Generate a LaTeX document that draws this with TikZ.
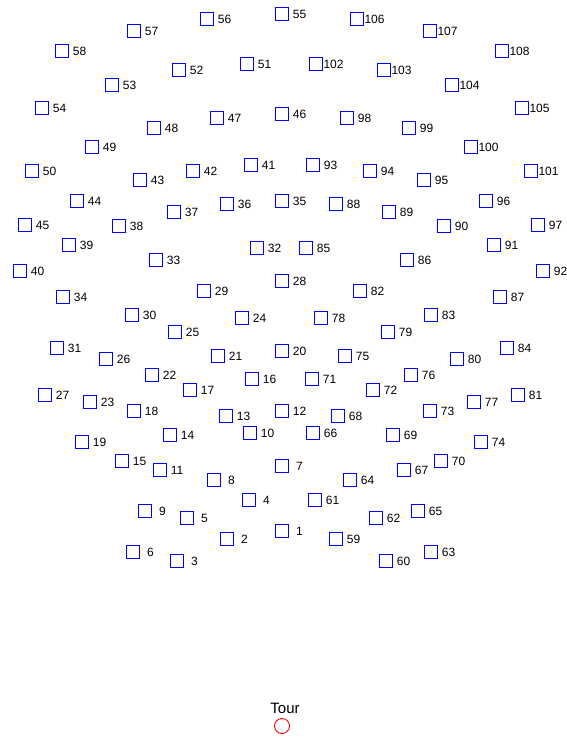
\documentclass[tikz,border=0pt]{standalone}
\usepackage{fontspec}
\setmainfont{Liberation Sans}
\tikzset{
  cell/.style={rectangle,draw=blue,line width=0.9pt,inner sep=0pt,minimum size=12.8pt},
  num/.style={anchor=west,inner sep=0pt,font=\fontsize{12}{14}\selectfont},
  depot/.style={circle,draw=red,line width=0.9pt,inner sep=0pt,minimum size=15pt},
}
% right-align numbers like a 3-wide field
\newcommand\padnum[1]{\ifnum#1<100 \ \fi\ifnum#1<10 \ \fi#1}
\begin{document}
\begin{tikzpicture}[x=1pt,y=-1pt]
\useasboundingbox (0,0) rectangle (567,737);
% customer sites: number/x/y (left half and axis)
\foreach \n/\x/\y in {1/282/531,2/227/539,3/177/561,4/249/500,5/187/518,6/133/552,
  7/282/466,8/214/480,9/145/511,10/250/433,11/160/470,12/282/411,13/226/416,
  14/170/435,15/122/461,16/252/379,17/190/390,18/134/411,19/82/442,20/282/351,
  21/218/356,22/152/375,23/90/402,24/242/318,25/175/332,26/106/359,27/45/395,
  28/282/281,29/204/291,30/132/315,31/57/348,32/257/248,33/156/260,34/63/297,
  35/282/201,36/227/204,37/174/212,38/119/226,39/69/245,40/20/271,41/251/165,
  42/193/171,43/140/180,44/77/201,45/25/225,46/282/114,47/217/118,48/154/128,
  49/92/147,50/32/171,51/247/64,52/179/70,53/112/85,54/42/108,55/282/14,
  56/207/19,57/134/31,58/62/51}
{
  \node[cell] (s\n) at (\x,\y) {};
  \node[num] (l\n) at ([xshift=0.5pt]s\n.east) {\padnum{\n}};
}
% customer sites: right half
\foreach \n/\x/\y in {59/336/539,60/386/561,61/315/500,62/376/518,63/431/552,
  64/350/480,65/418/511,66/313/433,67/404/470,68/338/416,69/393/435,70/441/461,
  71/312/379,72/373/390,73/430/411,74/481/442,75/345/356,76/411/375,77/474/402,
  78/321/318,79/388/332,80/457/359,81/518/395,82/360/291,83/431/315,84/507/348,
  85/306/248,86/407/260,87/500/297,88/336/204,89/389/212,90/444/226,91/494/245,
  92/543/271,93/313/165,94/370/171,95/424/180,96/486/201,97/538/225,98/347/118,
  99/409/128,100/471/147,101/531/171,102/316/64,103/384/70,104/452/85,
  105/522/108,106/357/19,107/430/31,108/502/51}
{
  \node[cell] (s\n) at (\x,\y) {};
  \node[num] (l\n) at ([xshift=0.5pt]s\n.east) {\padnum{\n}};
}
% depot
\node[depot] (tour) at (282,726) {};
\node[anchor=base,inner sep=0pt,font=\fontsize{15}{17}\selectfont] (tourlbl) at (285,713.5) {Tour};
\end{tikzpicture}
\end{document}
